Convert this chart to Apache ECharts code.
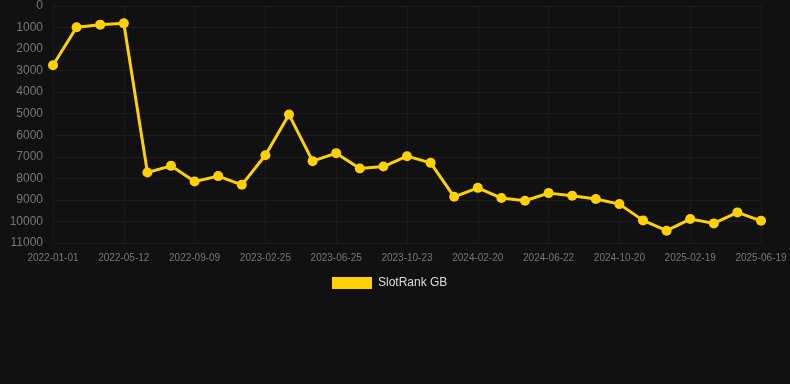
<!DOCTYPE html>
<html>
<head>
<meta charset="utf-8">
<script src="https://cdn.jsdelivr.net/npm/echarts@6/dist/echarts.min.js"></script>
<style>
  html, body { margin: 0; padding: 0; background: #111111; }
  #chart { width: 790px; height: 384px; }
</style>
</head>
<body>
<div id="chart"></div>
<script>
const dates = [
  '2022-01-01', '2022-02-14', '2022-03-28', '2022-05-12', '2022-06-21', '2022-07-31',
  '2022-09-09', '2022-11-04', '2022-12-31', '2023-02-25', '2023-04-06', '2023-05-16',
  '2023-06-25', '2023-08-04', '2023-09-13', '2023-10-23', '2023-12-02', '2024-01-11',
  '2024-02-20', '2024-04-01', '2024-05-12', '2024-06-22', '2024-08-01', '2024-09-10',
  '2024-10-20', '2024-11-30', '2025-01-09', '2025-02-19', '2025-03-31', '2025-05-10',
  '2025-06-19'
]
const rankGB = [
  2750, 990, 865, 805, 7730, 7420, 8145, 7895, 8300, 6925, 5040, 7200,
  6830, 7540, 7450, 6970, 7280, 8855, 8440, 8915, 9040, 8685, 8810, 8960,
  9195, 9950, 10430, 9890, 10090, 9580, 9970
]

const chart = echarts.init(document.getElementById('chart'))
chart.setOption({
  backgroundColor: '#111111',
  animation: false,
  grid: { left: 53, right: 29, top: 6, bottom: 141 },
  legend: {
    bottom: 95,
    left: 332,
    padding: 0,
    itemWidth: 40,
    itemHeight: 12,
    itemGap: 10,
    icon: 'rect',
    textStyle: { color: '#dddddd', fontSize: 12, fontFamily: 'Liberation Sans', padding: [0, 0, 0, 1] },
  },
  xAxis: {
    type: 'category',
    data: dates,
    boundaryGap: false,
    axisLabel: { color: '#777777', fontSize: 10, interval: 2, margin: 10, fontFamily: 'Liberation Sans' },
    axisTick: { show: false },
    axisLine: { lineStyle: { color: '#1e1e1e' } },
    splitLine: { show: true, interval: 2, lineStyle: { color: '#1b1b1b' } },
  },
  yAxis: {
    type: 'value',
    inverse: true,
    min: 0,
    max: 11000,
    interval: 1000,
    axisLabel: {
      color: '#777777', fontSize: 12, margin: 10, fontFamily: 'Liberation Sans',
      formatter: v => String(v),
    },
    axisLine: { show: false },
    axisTick: { show: false },
    splitLine: { lineStyle: { color: '#1d1d1d' } },
  },
  series: [{
    name: 'SlotRank GB',
    type: 'line',
    data: rankGB,
    symbol: 'circle',
    symbolSize: 10,
    lineStyle: { width: 3, color: '#ffd100' },
    itemStyle: { color: '#ffd100' },
  }],
})
</script>
</body>
</html>
